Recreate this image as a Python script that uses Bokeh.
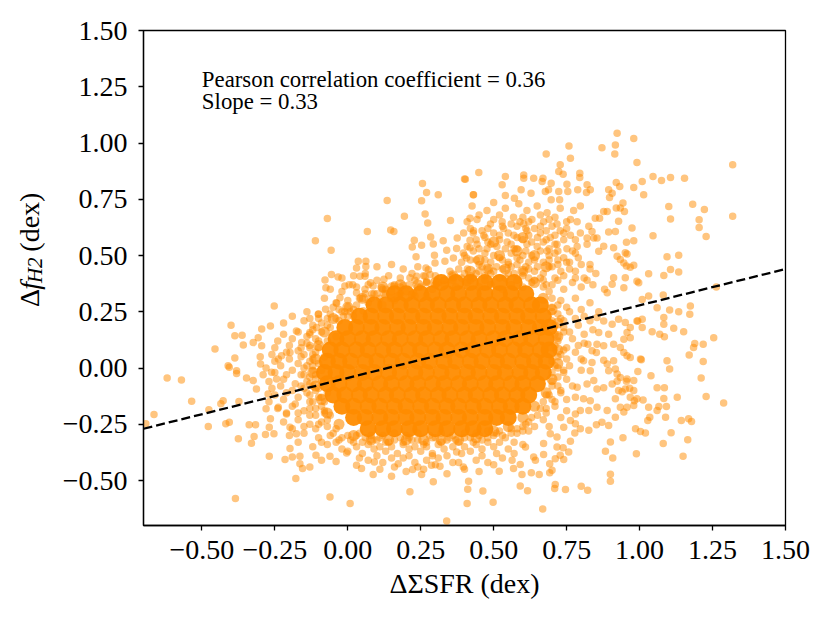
from bokeh.plotting import figure
from bokeh.layouts import row
from bokeh.models import Range1d, FixedTicker, CustomJSTickFormatter, Label, ColumnDataSource
from bokeh.core.properties import value
from bokeh.embed import file_html
from bokeh.resources import INLINE
import math

# ---- data ----
SPARSE = [
 (0.40,0.84),(0.256,0.82),(0.27,0.78),(0.31,0.77),(0.135,0.745),(0.253,0.743),(0.43,0.77),(0.265,0.684),(0.274,0.644),(0.194,0.674),
 (0.352,0.656),(0.419,0.666),(-0.07,0.664),(-0.111,0.566),(-0.057,0.523),(0.067,0.607),(0.147,0.613),(0.158,0.607),(0.228,0.568),(0.221,0.538),
 (0.253,0.546),(0.234,0.494),(0.284,0.582),(0.293,0.551),(0.327,0.566),(0.375,0.578),(0.339,0.523),(0.373,0.531),(0.396,0.511),(0.407,0.489),
 (0.419,0.568),(0.419,0.534),(0.297,0.501),(0.299,0.467),(0.333,0.475),(0.362,0.489),(0.036,0.475),(0.062,0.475),(0.03,0.445),(0.062,0.451),
 (0.042,0.408),(0.059,0.408),(-0.056,0.416),(-0.033,0.405),(-0.078,0.391),(-0.075,0.357),(-0.01,0.364),(0.005,0.37),(0.017,0.37),(0.03,0.335),
 (-0.038,0.288),(-0.027,0.312),(-0.252,0.276),(-0.076,0.261),(-0.101,0.239),(-0.01,0.25),(0.008,0.25),(0.078,0.379),(0.087,0.364),(0.116,0.357),
 (0.124,0.394),(0.15,0.364),(0.158,0.364),(0.059,0.35),(0.083,0.33),(0.09,0.33),(0.19,0.368),(0.219,0.327),(0.225,0.335),(0.213,0.401),
 (0.236,0.408),(0.265,0.408),(0.282,0.416),(0.27,0.386),(0.276,0.437),(0.268,0.445),(0.124,0.33),(0.147,0.31),(0.17,0.32),
 (0.923,1.043),(0.98,1.02),(0.917,0.991),(0.915,0.951),(0.871,0.979),(0.758,0.987),(0.68,0.951),(0.763,0.932),(0.991,0.913),(1.319,0.903),
 (0.728,0.903),(0.723,0.873),(0.738,0.861),(0.449,0.869),(0.403,0.839),(0.54,0.851),(0.529,0.814),(0.603,0.858),(0.603,0.843),(0.637,0.843),
 (0.669,0.843),(0.666,0.829),(0.697,0.821),(0.795,0.866),(0.795,0.847),(0.82,0.814),(0.831,0.792),(0.818,0.78),(0.751,0.817),(0.754,0.785),
 (0.788,0.792),(1.009,0.829),(0.98,0.802),(1.014,0.77),(1.046,0.851),(1.075,0.833),(1.106,0.847),(1.154,0.843),(0.92,0.824),(0.932,0.807),
 (0.894,0.792),(0.906,0.777),(0.897,0.758),(0.431,0.77),(0.5,0.736),(0.54,0.767),(0.594,0.792),(0.628,0.777),(0.571,0.755),(0.677,0.785),
 (0.688,0.792),(0.697,0.748),(0.726,0.748),(0.723,0.785),(0.943,0.733),(0.934,0.711),(0.92,0.711),(0.948,0.696),(1.1,0.718),(1.106,0.662),
 (1.182,0.728),(1.222,0.704),(1.204,0.659),(1.204,0.625),(1.228,0.585),(1.319,0.674),(1.046,0.588),(1.094,0.494),(1.134,0.501),(1.083,0.411),
 (1.106,0.438),(1.134,0.427),(1.031,0.419),(0.991,0.386),(0.997,0.379),(1.263,0.36),(1.174,0.276),(1.172,0.239),(1.134,0.25),(1.103,0.258),
 (1.031,0.32),(1.009,0.305),(1.06,0.268),(1.081,0.324),(0.974,0.622),(0.98,0.566),(0.955,0.559),(0.951,0.512),(0.957,0.507),(0.911,0.534),
 (0.923,0.497),(0.934,0.482),(0.946,0.467),(0.955,0.453),(0.98,0.457),(0.968,0.448),(0.951,0.401),(0.946,0.357),(0.911,0.401),(0.906,0.372),
 (0.889,0.335),(0.877,0.696),(0.889,0.696),(0.863,0.666),(0.848,0.666),(0.928,0.652),(0.917,0.607),(0.894,0.604),(0.854,0.578),(0.877,0.541),
 (0.86,0.519),(0.826,0.63),(0.837,0.607),(0.843,0.578),(0.82,0.578),
 (1.254,0.135),(1.218,0.106),(1.189,0.109),(1.185,0.091),(1.17,0.058),(1.218,0.029),(1.211,-0.044),(1.228,-0.127),(1.288,-0.155),(1.151,0.161),
 (1.117,0.177),(1.083,0.195),(1.083,0.224),(1.069,0.15),(1.085,0.139),(1.043,0.161),(1.009,0.18),(0.994,0.209),(1.009,0.217),(1.094,0.032),
 (1.103,-0.004),(1.039,-0.034),(1.006,0.037),(1.06,-0.088),(1.085,-0.088),(1.083,-0.135),(1.066,-0.171),(1.092,-0.171),(1.089,-0.219),(1.06,-0.189),
 (1.129,-0.13),(0.994,-0.016),(0.98,-0.056),(0.955,-0.059),(0.966,-0.09),(0.94,-0.105),(1.012,-0.142),(0.991,-0.137),(0.982,-0.145),(1.031,-0.174),
 (1.035,-0.219),(1.028,-0.233),(1.143,-0.233),(1.168,-0.226),(1.178,-0.238),(1.108,-0.288),(1.081,-0.336),(1.165,-0.319),(1.149,-0.392),(0.986,-0.27),
 (1.003,-0.282),(1.02,-0.289),(0.943,-0.31),(0.9,-0.329),(0.883,-0.37),(0.908,-0.4),(0.989,-0.381),(0.9,-0.472),(0.9,-0.503),(0.8,-0.525),
 (0.822,-0.543),(0.746,-0.54),(0.711,-0.518),(0.709,-0.535),(0.668,-0.627),(0.498,-0.597),(0.409,-0.602),(0.463,-0.547),(0.411,-0.539),(0.414,-0.503),
 (0.591,-0.524),(0.616,-0.546),(0.519,-0.459),(0.568,-0.447),(0.597,-0.473),(0.629,-0.466),(0.656,-0.473),(0.692,-0.466),(0.7,-0.454),(0.591,-0.429),
 (0.563,-0.41),(0.609,-0.351),(0.643,-0.41),(0.637,-0.396),(0.671,-0.384),(0.692,-0.425),(0.711,-0.403),(0.738,-0.354),(0.763,-0.325),(0.757,-0.373),
 (0.728,-0.388),(0.74,-0.407),(0.778,-0.289),(0.797,-0.27),(0.826,-0.277),(0.852,-0.252),(0.871,-0.241),(0.894,-0.255),(0.917,-0.219),(0.946,-0.196),
 (0.934,-0.174),(0.957,-0.174),(0.98,-0.167),(0.968,-0.13),(0.917,-0.137),(0.889,-0.189),(0.928,-0.1),(0.951,-0.093),(0.98,-0.1),(0.923,-0.059),
 (0.934,-0.042),(0.957,-0.049),(0.906,-0.071),(0.877,-0.088),(0.894,-0.012),(0.917,-0.004),(0.923,-0.027),(0.889,0.018),(0.911,0.032),(0.877,0.035),
 (0.957,0.054),(0.968,0.047),(1.003,0.04),(0.854,0.106),(0.877,0.099),(0.911,0.106),(0.934,0.091),(0.946,0.069),(0.968,0.135),(0.946,0.128),
 (0.957,0.158),(0.968,0.18),(0.991,0.209),(0.894,0.15),(0.86,0.158),(0.877,0.209),(0.854,0.224),(0.906,0.195),(0.928,0.217),(0.951,0.202),
 (0.823,0.106),(0.837,0.077),(0.852,0.069),(0.808,0.032),(0.837,0.025),(0.831,-0.012),(0.786,-0.086),(0.82,-0.071),(0.843,-0.056),(0.854,-0.093),
 (0.78,-0.13),(0.808,-0.137),(0.831,-0.145),(0.854,-0.174),(0.826,-0.189),(0.797,-0.189),(0.78,-0.204),(0.763,-0.233),(0.74,-0.263),(0.78,-0.248),
 (0.717,-0.307),(0.694,-0.292),(0.717,-0.351),(0.671,-0.336),
 (-0.692,-0.248),(-0.664,-0.207),(-0.619,-0.044),(-0.57,-0.053),(-0.535,-0.148),(-0.476,-0.185),(-0.478,-0.26),(-0.455,0.084),(-0.4,0.19),(-0.387,0.143),
 (-0.362,0.146),(-0.358,0.102),(-0.324,0.113),(-0.307,0.135),(-0.295,0.173),(-0.265,0.187),(-0.387,0.044),(-0.41,0.01),(-0.406,0.003),(-0.381,-0.012),
 (-0.381,-0.024),(-0.347,-0.044),(-0.324,-0.056),(-0.313,-0.093),(-0.299,0.018),(-0.295,0.099),(-0.427,-0.145),(-0.435,-0.159),(-0.373,-0.149),(-0.418,-0.248),
 (-0.406,-0.241),(-0.375,-0.314),(-0.33,-0.334),(-0.321,-0.304),(-0.338,-0.252),(-0.316,-0.252),(-0.28,-0.181),(-0.265,-0.226),(-0.269,-0.263),(-0.282,-0.295),
 (-0.253,-0.292),(-0.269,-0.392),(-0.385,-0.58),(-0.215,-0.407),(-0.198,-0.358),(-0.19,-0.396),(-0.164,-0.392),(-0.164,-0.425),(-0.155,-0.447),(-0.178,-0.491),
 (-0.13,-0.44),(-0.109,-0.388),(-0.09,-0.41),(-0.061,-0.392),(-0.04,-0.415),(-0.004,-0.378),(0.03,-0.432),(0.047,-0.447),(-0.061,-0.573),(0.008,-0.602),
 (0.087,-0.473),(0.091,-0.418),(0.15,-0.481),(0.173,-0.425),(0.213,-0.55),(0.222,-0.451),(0.253,-0.473),(0.287,-0.432),(0.293,-0.506),(0.316,-0.437),
 (0.339,-0.68),(0.396,-0.44),(0.373,-0.373),(-0.198,0.069),(-0.17,0.077),(-0.176,0.165),(-0.238,0.04),(-0.227,0.054),(-0.261,-0.019),(-0.244,-0.049),
 (-0.273,-0.115),(-0.238,-0.174),(-0.21,-0.204),(-0.198,-0.263),(-0.176,-0.292),(-0.158,0.113),(-0.13,0.158),(-0.107,0.18),(-0.015,0.231),(0.019,0.231),
 (0.053,0.254),
]

FILL = [
 (0.426,0.72),(0.477,0.70),(0.54,0.71),(0.586,0.73),(0.614,0.70),(0.649,0.72),(0.683,0.69),(0.728,0.71),(0.774,0.70),(0.797,0.72),
 (0.409,0.65),(0.443,0.66),(0.489,0.64),(0.529,0.65),(0.568,0.67),(0.603,0.64),(0.631,0.66),(0.671,0.65),(0.717,0.64),(0.763,0.66),(0.786,0.65),
 (0.397,0.60),(0.431,0.61),(0.466,0.59),(0.50,0.60),(0.534,0.62),(0.569,0.59),(0.614,0.61),(0.66,0.60),(0.694,0.58),(0.728,0.61),(0.763,0.59),(0.797,0.60),
 (0.409,0.54),(0.443,0.55),(0.477,0.53),(0.511,0.54),(0.546,0.56),(0.58,0.53),(0.614,0.55),(0.649,0.54),(0.683,0.52),(0.717,0.55),(0.751,0.53),(0.786,0.54),(0.82,0.55),
 (0.39,0.47),(0.42,0.48),(0.45,0.46),(0.49,0.47),(0.52,0.49),(0.55,0.46),(0.59,0.48),(0.62,0.47),(0.65,0.45),(0.69,0.48),(0.72,0.46),(0.76,0.47),(0.79,0.49),(0.83,0.46),
 (0.36,0.41),(0.40,0.42),(0.43,0.40),(0.47,0.41),(0.50,0.43),(0.54,0.40),(0.57,0.42),(0.60,0.41),(0.64,0.39),(0.67,0.42),(0.71,0.40),(0.74,0.41),(0.78,0.43),(0.81,0.40),(0.85,0.42),
 (0.33,0.37),(0.37,0.36),(0.41,0.38),(0.45,0.36),(0.49,0.37),(0.53,0.35),(0.56,0.37),(0.60,0.36),(0.63,0.38),(0.67,0.36),(0.70,0.37),(0.74,0.35),(0.77,0.38),(0.80,0.36),(0.84,0.37),(0.88,0.35),
 (0.45,0.68),(0.52,0.68),(0.60,0.67),(0.66,0.68),(0.71,0.67),(0.42,0.62),(0.48,0.62),(0.58,0.63),(0.64,0.62),(0.70,0.63),(0.75,0.62),(0.44,0.57),(0.52,0.57),(0.60,0.57),
 (0.67,0.56),(0.74,0.57),(0.40,0.50),(0.47,0.51),(0.56,0.51),(0.63,0.50),(0.71,0.51),(0.78,0.51),(0.38,0.44),(0.46,0.45),(0.53,0.44),(0.62,0.44),(0.69,0.45),(0.76,0.44),
 (0.83,0.44),(0.42,0.39),(0.58,0.39),(0.72,0.39),(0.82,0.39),
 (0.47,0.39),(0.52,0.40),(0.62,0.40),(0.67,0.39),(0.78,0.40),(0.44,0.42),(0.56,0.45),(0.73,0.43),(0.80,0.46),(0.47,0.48),(0.58,0.49),(0.67,0.47),(0.74,0.49),
 (0.43,0.52),(0.54,0.53),(0.61,0.52),(0.69,0.53),(0.77,0.52),(0.48,0.56),(0.56,0.55),(0.63,0.56),(0.71,0.55),(0.78,0.57),(0.46,0.61),(0.55,0.60),(0.62,0.59),
 (0.68,0.61),(0.74,0.60),(0.50,0.66),(0.56,0.64),(0.62,0.65),(0.69,0.66),(0.75,0.65),
 (0.41,0.44),(0.44,0.48),(0.50,0.50),(0.53,0.48),(0.57,0.53),(0.60,0.50),(0.64,0.48),(0.66,0.52),(0.69,0.50),(0.72,0.48),(0.45,0.53),(0.49,0.55),(0.52,0.59),
 (0.58,0.58),(0.61,0.62),(0.65,0.58),(0.68,0.57),(0.71,0.59),(0.66,0.63),(0.59,0.65),(0.53,0.63),(0.47,0.58),(0.43,0.60),(0.72,0.52),(0.70,0.45),(0.75,0.47),
 (0.60,0.43),(0.55,0.42),(0.49,0.42),
 (0.10,0.45),(0.15,0.46),(0.19,0.44),(0.24,0.45),(-0.02,0.40),(0.02,0.41),(0.10,0.39),(0.14,0.41),(0.18,0.40),(0.30,0.41),(0.33,0.39),(-0.06,0.35),(-0.02,0.34),(0.12,0.35),
 (0.20,0.34),(0.25,0.36),(0.29,0.35),(-0.08,0.31),(0.0,0.30),(0.04,0.31),(0.07,0.29),(0.11,0.31),(0.16,0.30),(-0.05,0.27),(0.02,0.26),(-0.07,0.22),(-0.03,0.21),
 (0.03,0.36),(0.07,0.37),(0.16,0.37),(0.23,0.39),(0.27,0.38),(0.31,0.38),(0.06,0.42),(0.22,0.42),(0.26,0.41),(0.35,0.43),(0.13,0.33),(0.18,0.33),(0.23,0.32),
 (0.27,0.32),(-0.04,0.29),(0.06,0.33),(0.12,0.28),(-0.06,0.24),(0.0,0.23),(-0.03,0.26),(-0.06,0.18),(-0.04,0.14),
 (-0.04,0.22),(-0.02,0.25),(0.0,0.27),(0.03,0.28),(0.05,0.31),(0.08,0.31),(0.10,0.33),(0.13,0.35),(0.15,0.34),(0.18,0.36),(0.21,0.37),(0.24,0.36),(0.27,0.38),
 (0.30,0.37),(0.33,0.39),(0.36,0.39),(0.39,0.40),(0.42,0.41),(0.45,0.43),(0.48,0.44),(0.51,0.45),(0.55,0.47),(0.58,0.46),(0.61,0.45),(0.64,0.43),(0.66,0.40),
 (0.68,0.37),(0.69,0.34),
 (-0.22,0.20),(-0.15,0.21),(-0.12,0.19),(-0.24,0.12),(-0.19,0.13),(-0.14,0.11),(-0.11,0.13),(-0.26,0.06),(-0.21,0.07),(-0.16,0.05),(-0.12,0.06),(-0.28,0.0),(-0.23,0.01),
 (-0.19,-0.01),(-0.15,0.0),(-0.12,0.01),(-0.27,-0.06),(-0.22,-0.05),(-0.18,-0.07),(-0.14,-0.06),(-0.25,-0.12),(-0.21,-0.11),(-0.17,-0.13),(-0.13,-0.12),(-0.24,-0.18),
 (-0.19,-0.17),(-0.15,-0.19),(-0.11,-0.18),(-0.22,-0.24),(-0.17,-0.23),(-0.13,-0.25),(-0.09,-0.24),(-0.20,-0.30),(-0.15,-0.29),(-0.10,-0.31),(-0.06,-0.30),(-0.12,-0.35),
 (-0.07,-0.34),(-0.02,-0.36),(-0.09,0.16),(-0.10,0.09),(-0.11,-0.03),(-0.10,-0.09),(-0.08,-0.15),(-0.06,-0.21),(-0.04,-0.27),
 (-0.30,0.05),(-0.25,0.03),(-0.20,0.04),(-0.17,0.02),(-0.13,0.03),(-0.29,-0.03),(-0.25,-0.02),(-0.21,-0.03),(-0.16,-0.03),(-0.13,-0.04),(-0.26,-0.09),(-0.23,-0.08),
 (-0.19,-0.10),(-0.15,-0.09),(-0.12,-0.08),(-0.27,-0.15),(-0.22,-0.14),(-0.18,-0.16),(-0.13,-0.15),(-0.09,-0.13),(-0.21,-0.20),(-0.17,-0.20),(-0.13,-0.21),(-0.08,-0.20),
 (-0.19,-0.27),(-0.15,-0.26),(-0.11,-0.27),(-0.07,-0.26),(-0.17,-0.33),(-0.09,-0.33),(-0.04,-0.33),(-0.25,0.09),(-0.20,0.10),(-0.16,0.09),(-0.13,0.09),(-0.22,0.15),
 (-0.17,0.16),(-0.13,0.15),(-0.19,0.23),(-0.14,0.25),(-0.10,0.22),(-0.07,0.19),(-0.07,0.12),(-0.08,0.05),(-0.09,-0.01),(-0.09,-0.06),(-0.07,-0.11),
 (-0.10,0.24),(-0.13,0.22),(-0.09,0.20),(-0.12,0.17),(-0.14,0.14),(-0.10,0.12),(-0.13,0.10),(-0.11,0.07),(-0.15,0.06),(-0.12,0.04),(-0.10,0.02),(-0.14,0.01),
 (-0.12,-0.01),(-0.15,-0.03),(-0.11,-0.05),(-0.13,-0.07),(-0.16,-0.08),(-0.11,-0.10),(-0.14,-0.11),(-0.10,-0.13),(-0.12,-0.15),(-0.09,-0.17),(-0.13,-0.18),
 (-0.08,-0.19),(-0.11,-0.21),(-0.07,-0.23),(-0.10,-0.25),
 (-0.03,-0.32),(0.02,-0.33),(0.06,-0.31),(0.10,-0.32),(0.14,-0.33),(0.18,-0.31),(0.22,-0.32),(0.26,-0.34),(0.30,-0.31),(0.34,-0.32),(0.38,-0.33),(0.42,-0.31),(0.46,-0.32),
 (0.50,-0.30),(0.54,-0.31),(0.58,-0.29),(0.62,-0.28),(0.0,-0.37),(0.05,-0.38),(0.09,-0.36),(0.13,-0.37),(0.17,-0.38),(0.21,-0.36),(0.25,-0.37),(0.29,-0.38),(0.33,-0.36),
 (0.42,-0.37),(0.46,-0.36),(0.50,-0.35),(0.55,-0.36),(0.60,-0.34),(0.07,-0.41),(0.12,-0.42),(0.19,-0.40),(0.23,-0.42),(0.27,-0.41),(0.31,-0.40),(0.36,-0.42),(0.44,-0.41),
 (0.48,-0.42),(0.53,-0.40),(0.11,-0.45),(0.20,-0.46),(0.26,-0.45),(0.34,-0.47),(0.40,-0.45),(0.45,-0.46),
 (0.00,-0.30),(0.04,-0.29),(0.08,-0.30),(0.12,-0.30),(0.16,-0.29),(0.20,-0.30),(0.24,-0.29),(0.28,-0.30),(0.32,-0.29),(0.36,-0.30),(0.40,-0.29),(0.44,-0.29),
 (0.48,-0.28),(0.52,-0.28),(0.56,-0.27),(0.60,-0.26),(0.03,-0.35),(0.07,-0.34),(0.11,-0.35),(0.15,-0.35),(0.19,-0.34),(0.23,-0.35),(0.27,-0.35),(0.31,-0.34),
 (0.36,-0.35),(0.40,-0.35),(0.44,-0.34),(0.48,-0.33),(0.52,-0.33),(0.57,-0.33),(0.04,-0.40),(0.10,-0.39),(0.15,-0.40),(0.21,-0.39),(0.29,-0.39),(0.34,-0.39),
 (0.39,-0.38),(0.46,-0.39),(0.51,-0.38),(0.57,-0.38),(0.16,-0.44),(0.24,-0.44),(0.30,-0.43),(0.38,-0.42),(0.50,-0.43),
 (-0.05,-0.29),(-0.02,-0.31),(0.01,-0.32),(0.03,-0.30),(0.05,-0.33),(0.08,-0.32),(0.11,-0.31),(0.13,-0.33),(0.16,-0.32),(0.19,-0.33),(0.21,-0.31),(0.24,-0.32),
 (0.27,-0.33),(0.29,-0.31),(0.32,-0.33),(0.35,-0.31),(0.37,-0.32),(0.40,-0.31),(0.43,-0.33),(0.45,-0.30),(0.48,-0.31),(0.51,-0.29),(0.53,-0.30),(0.56,-0.29),
 (0.58,-0.27),(0.60,-0.28),
 (0.73,0.30),(0.78,0.31),(0.83,0.29),(0.72,0.24),(0.76,0.25),(0.81,0.23),(0.86,0.25),(0.74,0.18),(0.79,0.19),(0.84,0.17),(0.72,0.12),(0.77,0.13),(0.81,0.11),(0.73,0.06),
 (0.78,0.07),(0.72,0.0),(0.76,0.01),(0.80,-0.01),(0.70,-0.06),(0.75,-0.05),(0.68,-0.12),(0.73,-0.11),(0.66,-0.18),(0.71,-0.17),(0.75,-0.19),(0.62,-0.24),(0.67,-0.23),
 (0.70,0.27),(0.75,0.27),(0.80,0.26),(0.70,0.21),(0.74,0.21),(0.78,0.22),(0.83,0.21),(0.71,0.15),(0.76,0.16),(0.81,0.15),(0.70,0.09),(0.75,0.09),(0.79,0.10),
 (0.70,0.03),(0.75,0.04),(0.80,0.04),(0.70,-0.02),(0.74,-0.02),(0.72,-0.08),(0.77,-0.08),(0.70,-0.14),(0.75,-0.14),(0.68,-0.20),(0.73,-0.22),(0.64,-0.26),(0.69,-0.26),
 (0.70,0.31),(0.72,0.28),(0.70,0.25),(0.73,0.22),(0.71,0.19),(0.74,0.16),(0.72,0.14),(0.71,0.10),(0.74,0.08),(0.72,0.05),(0.71,0.01),(0.74,-0.01),(0.72,-0.04),
 (0.70,-0.08),(0.73,-0.10),(0.69,-0.12),(0.71,-0.15),(0.67,-0.15),(0.68,-0.18),(0.65,-0.21),(0.63,-0.22),(0.61,-0.25),
]

# overlapping points along the rim of the saturated core
RING = [
 (0.12,0.36),(0.18,0.37),(0.24,0.37),(0.30,0.38),(0.36,0.41),(0.42,0.43),(0.48,0.44),(0.54,0.44),(0.60,0.43),(0.64,0.38),
 (0.05,0.31),(0.0,0.27),(-0.05,0.22),(-0.08,0.16),(-0.10,0.10),(-0.11,0.04),(-0.12,-0.02),(-0.11,-0.08),(-0.09,-0.14),(-0.07,-0.20),
 (-0.03,-0.25),(0.02,-0.30),(0.08,-0.32),(0.14,-0.32),(0.20,-0.32),(0.26,-0.32),(0.32,-0.32),(0.38,-0.32),(0.44,-0.31),(0.50,-0.28),
 (0.55,-0.26),(0.60,-0.22),(0.64,-0.17),(0.68,-0.11),(0.70,-0.05),(0.72,0.02),(0.72,0.08),(0.72,0.14),(0.72,0.20),(0.70,0.26),(0.67,0.31),
 (0.45,0.48),(0.52,0.50),(0.58,0.52),(0.64,0.50),(0.50,0.56),(0.60,0.58),(0.68,0.45),
]

# dense, fully saturated core of the cloud (one list of x per row of y)
CORE_ROW_Y = [0.33, 0.28, 0.23, 0.18, 0.13, 0.08, 0.03, -0.02, -0.07, -0.12, -0.17, -0.22, -0.27, 0.38]
CORE_ROW_X = [
 [0.16,0.20,0.25,0.29,0.34,0.38,0.43,0.47,0.52,0.56,0.61],
 [0.09,0.13,0.18,0.22,0.27,0.31,0.36,0.40,0.45,0.49,0.54,0.58,0.63,0.66],
 [0.04,0.08,0.13,0.17,0.22,0.26,0.31,0.35,0.40,0.44,0.49,0.53,0.58,0.62,0.67],
 [-0.01,0.03,0.08,0.12,0.17,0.21,0.26,0.30,0.35,0.39,0.44,0.48,0.53,0.57,0.62,0.66,0.69],
 [-0.04,0.00,0.05,0.09,0.14,0.18,0.23,0.27,0.32,0.36,0.41,0.45,0.50,0.54,0.59,0.63,0.68],
 [-0.06,-0.02,0.03,0.07,0.12,0.16,0.21,0.25,0.30,0.34,0.39,0.43,0.48,0.52,0.57,0.61,0.66,0.69],
 [-0.07,-0.03,0.01,0.06,0.10,0.15,0.19,0.24,0.28,0.33,0.37,0.42,0.46,0.51,0.55,0.60,0.64,0.68],
 [-0.08,-0.04,0.00,0.05,0.09,0.14,0.18,0.23,0.27,0.32,0.36,0.41,0.45,0.50,0.54,0.59,0.63,0.67],
 [-0.07,-0.03,0.02,0.06,0.11,0.15,0.20,0.24,0.29,0.33,0.38,0.42,0.47,0.51,0.56,0.60,0.65],
 [-0.05,-0.01,0.04,0.08,0.13,0.17,0.22,0.26,0.31,0.35,0.40,0.44,0.49,0.53,0.58,0.62],
 [-0.02,0.02,0.07,0.11,0.16,0.20,0.25,0.29,0.34,0.38,0.43,0.47,0.52,0.56,0.60],
 [0.02,0.06,0.11,0.15,0.20,0.24,0.29,0.33,0.38,0.42,0.47,0.51,0.55],
 [0.07,0.12,0.16,0.21,0.25,0.30,0.34,0.39,0.43,0.47],
 [0.32,0.37,0.42,0.47,0.52,0.57],
]

FIT_X = [-0.7, 1.5]
FIT_Y = [-0.27, 0.44]

TICKS = [-0.5, -0.25, 0.0, 0.25, 0.5, 0.75, 1.0, 1.25, 1.5]
TEXT_LINES = ["Pearson correlation coefficient = 0.36", "Slope = 0.33"]
X_LABEL = "\u0394\u03a3SFR (dex)"

ORANGE = "#ff8c00"
SERIF = "Liberation Serif"

core = ColumnDataSource(dict(
    x=[x for r in CORE_ROW_X for x in r],
    y=[yy for yy, r in zip(CORE_ROW_Y, CORE_ROW_X) for _ in r]))
ring = ColumnDataSource(dict(x=[a for a, b in RING], y=[b for a, b in RING]))
fill = ColumnDataSource(dict(x=[a for a, b in FILL], y=[b for a, b in FILL]))
sparse = ColumnDataSource(dict(x=[a for a, b in SPARSE], y=[b for a, b in SPARSE]))

# ---- main plot (frame at x 143..785, y 30..525 of the page) ----
LEFT_W = 55
p = figure(width=814 - LEFT_W, height=607, output_backend="svg", toolbar_location=None,
           x_range=Range1d(-0.7, 1.5), y_range=Range1d(-0.7, 1.5),
           min_border_left=143 - LEFT_W, min_border_right=29, min_border_top=30,
           min_border_bottom=82)
p.background_fill_color = "white"
p.border_fill_color = "white"
p.xgrid.visible = False
p.ygrid.visible = False
p.outline_line_color = "black"
p.outline_line_width = 1.3
p.outline_line_alpha = 1.0

p.scatter("x", "y", source=core, size=17, fill_color=ORANGE, fill_alpha=0.95, line_color=None)
p.scatter("x", "y", source=ring, size=11, fill_color=ORANGE, fill_alpha=0.6, line_color=None)
p.scatter("x", "y", source=fill, size=7.5, fill_color=ORANGE, fill_alpha=0.5, line_color=None)
p.scatter("x", "y", source=sparse, size=7.5, fill_color=ORANGE, fill_alpha=0.5, line_color=None)
p.line(FIT_X, FIT_Y, line_color="black", line_width=2.3, line_dash="9 4")

fmt = CustomJSTickFormatter(code='return (tick < 0 ? "\\u2212" : "") + Math.abs(tick).toFixed(2);')
for ax in (p.xaxis[0], p.yaxis[0]):
    ax.ticker = FixedTicker(ticks=TICKS)
    ax.formatter = fmt
    ax.major_label_text_font = SERIF
    ax.major_label_text_font_size = "28px"
    ax.major_label_text_color = "black"
    ax.major_tick_out = 5
    ax.major_tick_in = 0
    ax.major_tick_line_width = 1.3
    ax.minor_tick_out = 0
    ax.minor_tick_in = 0
    ax.axis_line_width = 1.3
    ax.axis_line_color = "black"
p.xaxis.major_label_standoff = 10
p.yaxis.major_label_standoff = 11

p.xaxis.axis_label = X_LABEL
p.xaxis.axis_label_text_font = SERIF
p.xaxis.axis_label_text_font_size = "28px"
p.xaxis.axis_label_text_font_style = "normal"
p.xaxis.axis_label_text_color = "black"
p.xaxis.axis_label_standoff = 6

for txt, yy in zip(TEXT_LINES, (1.283, 1.183)):
    p.add_layout(Label(x=-0.5, y=yy, text=txt, text_font=SERIF, text_font_size="22.8px",
                       text_color="black", text_align="left", text_baseline="alphabetic"))

# left strip (page x 0..55): y axis label; coordinates are page pixels, y counted up from 607
left = figure(width=LEFT_W, height=607, output_backend="svg", toolbar_location=None,
              x_range=Range1d(0, LEFT_W), y_range=Range1d(0, 607),
              x_axis_type=None, y_axis_type=None, min_border=0)
left.outline_line_color = None
left.background_fill_color = "white"
left.border_fill_color = "white"

def put(fig, x, y, text, size="28px", style="normal", angle=0.0):
    fig.text(x=[x], y=[y], text=[text], text_font=value(SERIF), text_font_size=value(size),
             text_font_style=value(style), text_color="black", angle=angle,
             text_align="center", text_baseline="alphabetic")

put(left, 29, 607 - 328, "\u0394", angle=math.pi / 2)
put(left, 29, 607 - 313, "f", style="italic", angle=math.pi / 2)
put(left, 34, 607 - 294, "H2", size="21px", style="italic", angle=math.pi / 2)
put(left, 29, 607 - 235, "(dex)", angle=math.pi / 2)

layout = row(left, p, spacing=0)

open("out.html", "w").write(file_html(layout, INLINE))
